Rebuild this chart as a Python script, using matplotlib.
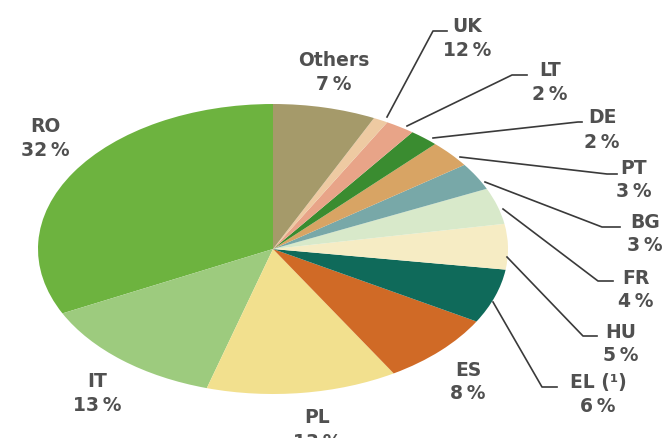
import matplotlib.pyplot as plt

plt.rcParams['font.family'] = ['DejaVu Sans']

# wedge order: counter-clockwise from the top
countries = ['RO', 'IT', 'PL', 'ES', 'EL (¹)', 'HU', 'FR', 'BG', 'PT', 'DE', 'LT', 'UK', 'Others']
shares = [32, 13, 13, 8, 6, 5, 4, 3, 3, 2, 2, 1, 7]
share_labels = ['32\u2009%', '13\u2009%', '13\u2009%', '8\u2009%', '6\u2009%', '5\u2009%', '4\u2009%',
                '3\u2009%', '3\u2009%', '2\u2009%', '2\u2009%', '12\u2009%', '7\u2009%']
colors = ['#6db33f', '#9dcb7e', '#f2e08e', '#d06a26', '#0f6a5a', '#f6ecc4', '#d8e9ca',
          '#78a8a8', '#d8a464', '#3a8c30', '#e8a488', '#eecaa2', '#a59a6a']

W, H = 671, 439
fig = plt.figure(figsize=(W / 100, H / 100), dpi=100)
# squashed pie: axes is wider than tall, aspect left on auto
cx, cy, rx, ry = 273, 250, 235, 145
ax = fig.add_axes([(cx - rx) / W, (H - cy - ry) / H, 2 * rx / W, 2 * ry / H])
ax.pie(shares, colors=colors, startangle=90, counterclock=True, radius=1,
       wedgeprops=dict(linewidth=0))
ax.set_xlim(-1, 1)
ax.set_ylim(-1, 1)
ax.set_aspect('auto')
ax.axis('off')

# label positions in pixels (x, y of name line)
label_pos = {
    'RO': (45, 127), 'IT': (97, 382), 'PL': (317, 418), 'ES': (468, 370),
    'EL (¹)': (598, 383), 'HU': (621, 332), 'FR': (636, 278), 'BG': (645, 222),
    'PT': (634, 168), 'DE': (602, 118), 'LT': (550, 71), 'UK': (467, 27),
    'Others': (334, 60),
}
# leader lines (pixels)
leaders = {
    'UK': [(387, 118), (433, 32), (447, 32)],
    'LT': [(407, 127), (512, 76), (527, 76)],
    'DE': [(433, 139), (578, 123), (582, 123)],
    'PT': [(460, 158), (607, 175), (617, 175)],
    'BG': [(485, 183), (602, 228), (620, 228)],
    'FR': [(503, 210), (598, 282), (613, 282)],
    'HU': [(507, 258), (583, 337), (597, 337)],
    'EL (¹)': [(493, 303), (542, 388), (557, 388)],
}

tc = '#505050'
for name, pct in zip(countries, share_labels):
    x, y = label_pos[name]
    fig.text(x / W, 1 - y / H, name, ha='center', va='center', fontsize=13.5,
             fontweight='bold', color=tc)
    fig.text(x / W, 1 - (y + 24) / H, pct, ha='center', va='center', fontsize=13.5,
             fontweight='bold', color=tc)
    if name in leaders:
        pts = leaders[name]
        fig.add_artist(plt.Line2D([p[0] / W for p in pts], [1 - p[1] / H for p in pts],
                                  color='#3a3a3a', linewidth=1.2, transform=fig.transFigure))

fig.savefig('out.png', dpi=100)
